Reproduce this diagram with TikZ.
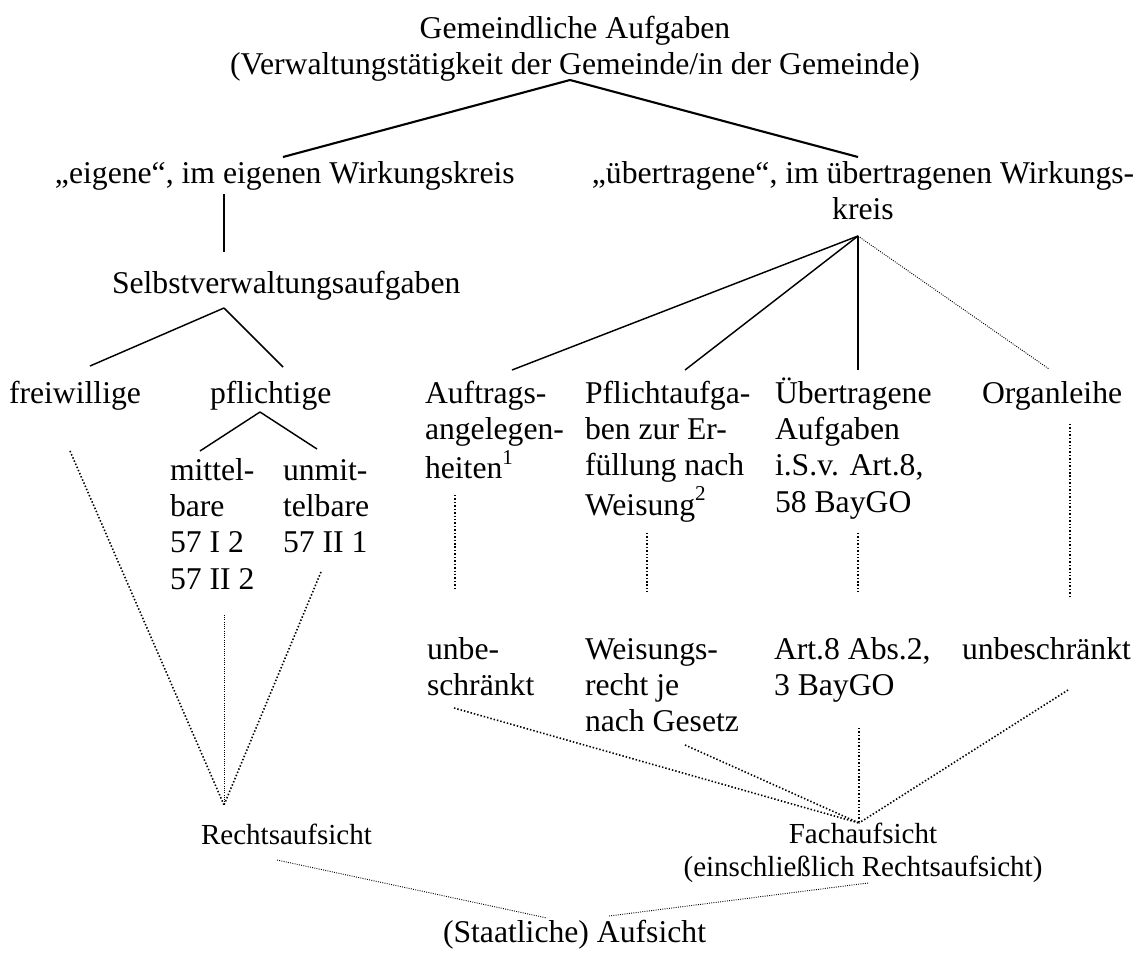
\documentclass[tikz,border=0pt]{standalone}
\usepackage{fontspec}
\setmainfont{Liberation Serif}
\newcommand\leftlines[1]{\begin{tabular}[t]{@{}l@{}}#1\end{tabular}}
\newcommand\midlines[1]{\begin{tabular}[t]{@{}c@{}}#1\end{tabular}}
\begin{document}
\begin{tikzpicture}[
  x=0.3788pt, y=-0.3788pt,
  lbl/.style={inner sep=0pt, outer sep=0pt, anchor=base west,
              font={\fontsize{12}{13.8}\selectfont}},
  lblc/.style={lbl, anchor=base},
  smalltext/.style={font={\fontsize{11}{12.65}\selectfont}},
  heavy/.style={line width=0.8pt},
  branch/.style={line width=0.55pt},
  dotline/.style={line width=0.6pt, dash pattern=on 0.55pt off 0.75pt},
  finedot/.style={line width=0.35pt, dash pattern=on 0.35pt off 0.5pt},
]
\useasboundingbox (0,0) rectangle (1139,952);
\fill[white] (0,0) rectangle (1139,952);

% --- text blocks -------------------------------------------------------
\node[lblc] (title) at (575,38)
  {\midlines{Gemeindliche Aufgaben\\(Verwaltungstätigkeit der Gemeinde/in der Gemeinde)}};
\node[lbl] (eig) at (55,183) {„eigene“, im eigenen Wirkungskreis};
\node[lblc] (ueb) at (863,183)
  {\midlines{„übertragene“, im übertragenen Wirkungs-\\kreis}};
\node[lbl] (selbst) at (112,293) {Selbstverwaltungsaufgaben};
\node[lbl] (frei) at (9,403) {freiwillige};
\node[lbl] (pfl) at (210,403) {pflichtige};
\node[lbl] (mittel) at (170,480) {\leftlines{mittel-\\bare\\57 I 2\\57 II 2}};
\node[lbl] (unmittel) at (283,480) {\leftlines{unmit-\\telbare\\57 II 1}};

\node[lbl] (auftr) at (425,403)
  {\leftlines{Auftrags-\\angelegen-\\heiten\raisebox{0.45em}{\fontsize{8}{9}\selectfont 1}}};
\node[lbl] (pflA) at (585,403)
  {\leftlines{Pflichtaufga-\\ben zur Er-\\füllung nach\\Weisung\raisebox{0.45em}{\fontsize{8}{9}\selectfont 2}}};
\node[lbl] (uebA) at (775,403)
  {\leftlines{Übertragene\\Aufgaben\\i.S.v. Art.8,\\58 BayGO}};
\node[lbl] (organ) at (982,403) {Organleihe};

\node[lbl] (unbe) at (427,659) {\leftlines{unbe-\\schränkt}};
\node[lbl] (weis) at (585,659) {\leftlines{Weisungs-\\recht je\\nach Gesetz}};
\node[lbl] (art) at (774,659) {\leftlines{Art.8 Abs.2,\\3 BayGO}};
\node[lbl] (unbes) at (962,659) {unbeschränkt};

\node[lbl, smalltext] (recht) at (201,844) {Rechtsaufsicht};
\node[lblc, smalltext] (fach) at (863,843)
  {\midlines{Fachaufsicht\\(einschließlich Rechtsaufsicht)}};
\node[lbl] (staat) at (443,942) {(Staatliche) Aufsicht};

% --- solid branches ----------------------------------------------------
\draw[heavy] ([shift={(-5,42)}]title.base) -- ([shift={(228,-26)}]eig.base west);
\draw[heavy] ([shift={(-5,42)}]title.base) -- ([shift={(-5,-26)}]ueb.base);

\draw[branch] ([shift={(169,11)}]eig.base west) -- ([shift={(112,-41)}]selbst.base west);
\draw[branch] ([shift={(112,15)}]selbst.base west) -- ([shift={(81,-37)}]frei.base west);
\draw[branch] ([shift={(112,15)}]selbst.base west) -- ([shift={(73,-36)}]pfl.base west);
\draw[branch] ([shift={(50,9)}]pfl.base west) -- ([shift={(30,-29)}]mittel.base west);
\draw[branch] ([shift={(50,9)}]pfl.base west) -- ([shift={(34,-31)}]unmittel.base west);

\draw[branch] ([shift={(-5,53)}]ueb.base) -- ([shift={(87,-33)}]auftr.base west);
\draw[branch] ([shift={(-5,53)}]ueb.base) -- ([shift={(100,-33)}]pflA.base west);
\draw[branch] ([shift={(-5,53)}]ueb.base) -- ([shift={(83,-33)}]uebA.base west);
\draw[finedot] ([shift={(-5,53)}]ueb.base) -- ([shift={(67,-34)}]organ.base west);

% --- dotted links to the kinds of supervision --------------------------
\draw[dotline] ([shift={(61,48)}]frei.base west) -- ([shift={(23,-39)}]recht.base west);
\draw[finedot] ([shift={(54,135)}]mittel.base west) -- ([shift={(23,-39)}]recht.base west);
\draw[dotline] ([shift={(38,92)}]unmittel.base west) -- ([shift={(23,-39)}]recht.base west);

\draw[dotline] ([shift={(30,92)}]auftr.base west) -- ([shift={(28,-71)}]unbe.base west);
\draw[dotline] ([shift={(62,130)}]pflA.base west) -- ([shift={(62,-67)}]weis.base west);
\draw[dotline] ([shift={(83,130)}]uebA.base west) -- ([shift={(84,-67)}]art.base west);
\draw[dotline] ([shift={(88,21)}]organ.base west) -- ([shift={(108,-62)}]unbes.base west);

\draw[dotline] ([shift={(27,49)}]unbe.base west) -- ([shift={(-4,-20)}]fach.base);
\draw[dotline] ([shift={(100,86)}]weis.base west) -- ([shift={(-4,-20)}]fach.base);
\draw[dotline] ([shift={(85,69)}]art.base west) -- ([shift={(-4,-20)}]fach.base);
\draw[dotline] ([shift={(106,31)}]unbes.base west) -- ([shift={(-4,-20)}]fach.base);

\draw[finedot] ([shift={(76,16)}]recht.base west) -- ([shift={(104,-24)}]staat.base west);
\draw[finedot] ([shift={(5,40)}]fach.base) -- ([shift={(166,-26)}]staat.base west);
\end{tikzpicture}
\end{document}
